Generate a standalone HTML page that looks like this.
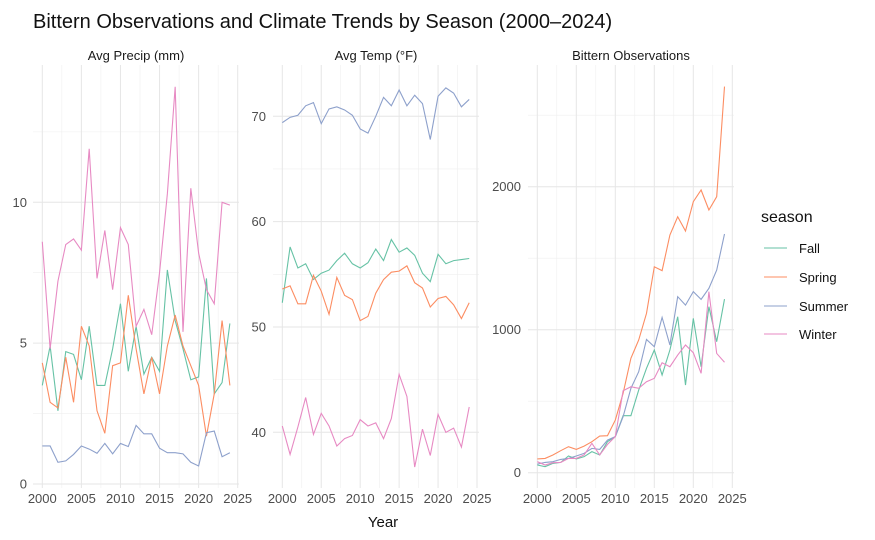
<!DOCTYPE html>
<html><head><meta charset="utf-8"><style>
body{margin:0;background:#fff;}
svg{display:block;font-family:"Liberation Sans",Arial,sans-serif;}
</style></head><body>
<svg id="chart" width="875" height="540" viewBox="0 0 875 540">
<text x="33" y="28" font-size="20" fill="#111">Bittern Observations and Climate Trends by Season (2000–2024)</text>
<text x="383" y="527" font-size="15" fill="#111" text-anchor="middle">Year</text>
<g>
<text x="761" y="222" font-size="16" fill="#111">season</text>
<g><line x1="764" x2="787" y1="248" y2="248" stroke="#66c2a5" stroke-width="1.1"/><text x="799" y="253" font-size="13" fill="#111">Fall</text></g>
<g><line x1="764" x2="787" y1="277" y2="277" stroke="#fc8d62" stroke-width="1.1"/><text x="799" y="282" font-size="13" fill="#111">Spring</text></g>
<g><line x1="764" x2="787" y1="306" y2="306" stroke="#8da0cb" stroke-width="1.1"/><text x="799" y="311" font-size="13" fill="#111">Summer</text></g>
<g><line x1="764" x2="787" y1="334" y2="334" stroke="#e78ac3" stroke-width="1.1"/><text x="799" y="339" font-size="13" fill="#111">Winter</text></g>
</g>
</svg>
<script>
const years = [2000,2001,2002,2003,2004,2005,2006,2007,2008,2009,2010,2011,2012,2013,2014,2015,2016,2017,2018,2019,2020,2021,2022,2023,2024];
const seasons = ["Fall","Spring","Summer","Winter"];
const colors = {Fall:"#66c2a5",Spring:"#fc8d62",Summer:"#8da0cb",Winter:"#e78ac3"};
const xTicks = [2000,2005,2010,2015,2020,2025];

const precipFall   = [3.5,4.9,2.6,4.7,4.6,3.7,5.6,3.5,3.5,4.8,6.4,4.0,5.6,3.9,4.5,4.0,7.6,5.8,4.8,3.7,3.8,7.3,3.2,3.6,5.7];
const precipSpring = [4.3,2.9,2.7,4.5,2.9,5.6,4.9,2.6,1.8,4.2,4.3,6.7,4.8,3.2,4.5,3.2,4.9,6.0,4.9,4.2,3.5,1.7,3.2,5.8,3.5];
const precipSummer = [1.35,1.35,0.77,0.82,1.05,1.35,1.24,1.09,1.44,1.07,1.44,1.33,2.08,1.78,1.78,1.27,1.11,1.11,1.07,0.77,0.64,1.82,1.88,0.97,1.11];
const precipWinter = [8.6,4.8,7.2,8.5,8.7,8.3,11.9,7.3,9.0,6.9,9.1,8.5,5.6,6.2,5.3,7.5,10.3,14.1,5.4,10.5,8.2,6.9,6.4,10.0,9.9];

const tempFall   = [52.3,57.6,55.6,56.0,54.5,55.1,55.4,56.3,57.0,56.0,55.6,56.1,57.4,56.3,58.3,57.1,57.5,56.8,55.1,54.3,56.9,56.0,56.3,56.4,56.5];
const tempSpring = [53.6,53.9,52.2,52.2,54.9,53.4,51.2,54.7,53.0,52.6,50.6,51.0,53.2,54.5,55.2,55.3,55.8,54.2,53.7,51.9,52.7,52.9,52.1,50.8,52.3];
const tempSummer = [69.4,69.9,70.1,71.0,71.3,69.3,70.7,70.9,70.6,70.1,68.8,68.4,70.0,71.8,71.0,72.5,71.0,72.0,71.2,67.8,71.9,72.7,72.2,70.9,71.6];
const tempWinter = [40.6,37.9,40.5,43.3,39.8,41.8,40.6,38.7,39.4,39.7,41.2,40.6,40.9,39.4,41.3,45.5,43.4,36.7,40.3,37.8,41.7,40.0,40.4,38.6,42.4];

const obsFall   = [54,42,65,72,117,96,112,147,124,217,252,399,399,578,730,858,683,858,1091,613,1079,741,1161,916,1214];
const obsSpring = [96,100,124,154,182,163,186,217,256,259,368,555,800,928,1114,1440,1413,1662,1790,1690,1895,1977,1837,1930,2700];
const obsSummer = [60,72,77,93,100,117,135,170,163,228,252,392,590,706,932,881,1086,893,1231,1172,1266,1212,1289,1417,1669];
const obsWinter = [77,54,70,72,100,100,124,205,124,198,252,573,601,590,636,660,769,741,823,893,839,695,1266,834,772];

const precipTicks = [0,5,10];
const precipMinor = [2.5,7.5,12.5];
const tempTicks = [40,50,60,70];
const tempMinor = [45,55,65];
const obsTicks = [0,1000,2000];
const obsMinor = [500,1500,2500];

const NS="http://www.w3.org/2000/svg";
const svg=document.getElementById('chart');
function mk(tag,attrs,parent){const e=document.createElementNS(NS,tag);for(const k in attrs)e.setAttribute(k,attrs[k]);(parent||svg).appendChild(e);return e;}

const panels=[
 {name:"precip",title:"Avg Precip (mm)",left:33,right:239,x0:42.3,x1:237.7,v0:0,p0:484,v1:10,p1:202.3,ticks:precipTicks,minor:precipMinor,labelX:27,
  series:{Fall:precipFall,Spring:precipSpring,Summer:precipSummer,Winter:precipWinter}},
 {name:"temp",title:"Avg Temp (°F)",left:273,right:479,x0:282.3,x1:477,v0:40,p0:432.3,v1:70,p1:116.3,ticks:tempTicks,minor:tempMinor,labelX:266,
  series:{Fall:tempFall,Spring:tempSpring,Summer:tempSummer,Winter:tempWinter}},
 {name:"obs",title:"Bittern Observations",left:528,right:734,x0:537.3,x1:732.3,v0:0,p0:472.7,v1:2000,p1:186.7,ticks:obsTicks,minor:obsMinor,labelX:521,
  series:{Fall:obsFall,Spring:obsSpring,Summer:obsSummer,Winter:obsWinter}}
];
const TOP=65,BOT=488;
panels.forEach(p=>{
  const g=mk('g',{});
  
  
  const xs=v=>p.x0+(v-2000)*(p.x1-p.x0)/25;
  const ys=v=>p.p0+(v-p.v0)*(p.p1-p.p0)/(p.v1-p.v0);
  const t=mk('text',{x:(p.left+p.right)/2,y:60,'font-size':13,fill:'#1a1a1a','text-anchor':'middle'},g);
  t.textContent=p.title;
  
  
  p.minor.forEach(v=>{const y=ys(v);if(y>=TOP&&y<=BOT)mk('line',{x1:p.left,x2:p.right,y1:y,y2:y,stroke:'#efefef','stroke-width':0.6},g);});
  for(let yr=2002.5;yr<2025;yr+=5){const x=xs(yr);mk('line',{x1:x,x2:x,y1:TOP,y2:BOT,stroke:'#efefef','stroke-width':0.6},g);}
  p.ticks.forEach(v=>{const y=ys(v);mk('line',{x1:p.left,x2:p.right,y1:y,y2:y,stroke:'#e6e6e6','stroke-width':1},g);
    const l=mk('text',{x:p.labelX,y:y+4.5,'font-size':13,fill:'#4d4d4d','text-anchor':'end'},g);l.textContent=v;
    
    });
  xTicks.forEach(v=>{const x=xs(v);mk('line',{x1:x,x2:x,y1:TOP,y2:BOT,stroke:'#e6e6e6','stroke-width':1},g);
    const l=mk('text',{x:x,y:503,'font-size':13,fill:'#4d4d4d','text-anchor':'middle'},g);l.textContent=v;
    
    });
  seasons.forEach(s=>{
    const d=p.series[s].map((v,i)=>(i?'L':'M')+xs(years[i]).toFixed(2)+','+ys(v).toFixed(2)).join('');
    const path=mk('path',{d:d,fill:'none',stroke:colors[s],'stroke-width':1.1},g);
    
    
  });
});
</script>
</body></html>
